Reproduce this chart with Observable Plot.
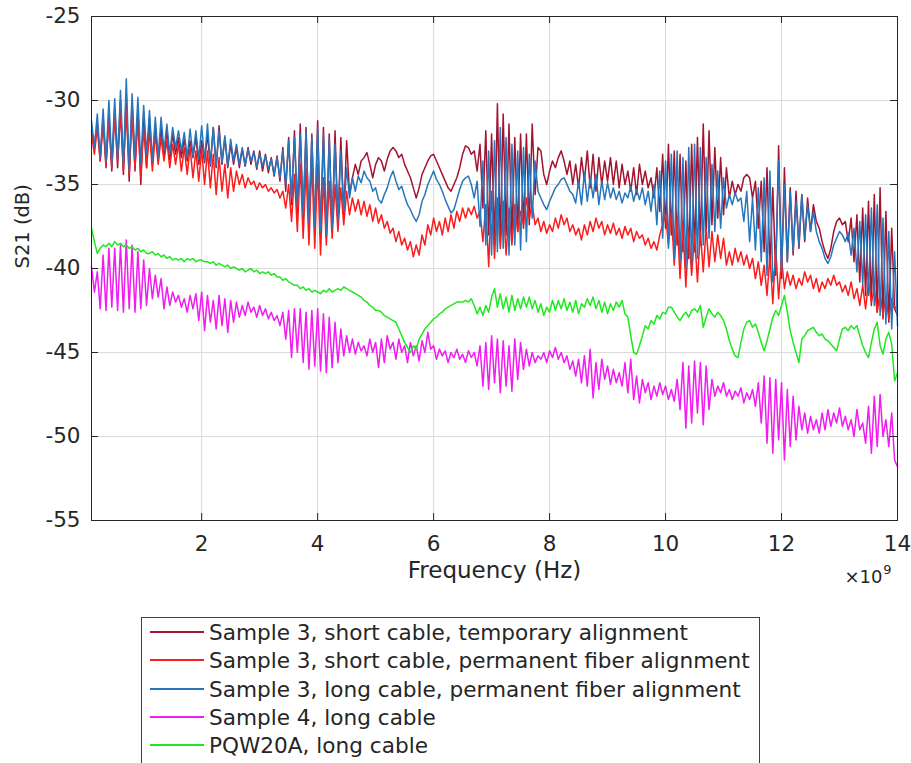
<!DOCTYPE html>
<html><head><meta charset="utf-8">
<script src="https://cdn.jsdelivr.net/npm/d3@7"></script>
<script src="https://cdn.jsdelivr.net/npm/@observablehq/plot@0.6"></script>
<style>
body{margin:0;background:#fff;font-family:"DejaVu Sans",sans-serif;}
#wrap{position:relative;width:911px;height:763px;overflow:hidden;background:#fff;}
#legend{position:absolute;left:141px;top:617px;width:619px;height:170px;border:1px solid #404040;box-sizing:border-box;background:#fff;}
.item{position:absolute;left:0;height:28px;display:flex;align-items:center;font-size:21.6px;color:#262626;white-space:nowrap;}
.sw{width:54px;height:2px;margin-left:8px;margin-right:5px;flex:none;}
</style></head>
<body><div id="wrap"><div id="chart"></div><div id="legend"></div></div>
<script>
// frequency sampling grid (GHz); axis shows x10^9 Hz
const freqStartGHz = 0.1;
const freqStepGHz = 0.05;
const xTicks = [2, 4, 6, 8, 10, 12, 14];
const yTicks = [-55, -50, -45, -40, -35, -30, -25];
const seriesNames = [
  "Sample 3, short cable, temporary alignment",
  "Sample 3, short cable, permanent fiber alignment",
  "Sample 3, long cable, permanent fiber alignment",
  "Sample 4, long cable",
  "PQW20A, long cable"
];
const seriesColors = ["#a2142f", "#fb1c1c", "#2676bd", "#f01cf0", "#1fe81f"];

// S21 (dB), one value per 0.05 GHz from 0.10 to 14.00 GHz
const s3ShortTemporary = [
-31.8,-32.6,-31.4,-33.6,-31.0,-34.0,-30.8,-34.2,-30.4,-34.0,
-30.0,-34.4,-29.6,-34.8,-30.0,-34.2,-30.4,-35.0,-30.8,-34.0,
-31.0,-33.8,-31.4,-33.6,-31.6,-33.4,-31.8,-33.5,-32.0,-33.2,
-32.2,-33.4,-32.3,-33.6,-32.4,-33.4,-32.2,-33.8,-32.4,-33.7,
-32.0,-33.9,-31.6,-34.0,-31.5,-33.8,-32.2,-34.0,-32.6,-33.8,
-32.8,-34.0,-32.9,-33.9,-32.8,-33.8,-33.0,-34.1,-33.0,-34.2,
-33.2,-34.3,-33.4,-34.5,-33.3,-34.8,-32.8,-35.4,-32.2,-36.2,
-31.8,-36.8,-31.4,-37.2,-31.6,-37.6,-32.0,-37.8,-31.2,-38.0,
-31.6,-38.2,-32.0,-37.8,-31.8,-37.4,-32.2,-36.8,-32.4,-35.6,
-34.6,-33.8,-34.4,-33.6,-33.4,-33.1,-33.8,-34.6,-33.8,-33.4,
-33.6,-34.2,-33.5,-33.0,-32.8,-33.0,-33.4,-33.2,-33.8,-34.2,
-34.6,-35.2,-35.8,-35.2,-34.4,-34.0,-33.6,-33.3,-33.2,-33.6,
-34.0,-34.4,-34.8,-35.2,-35.4,-35.0,-34.6,-34.0,-33.2,-32.7,
-32.8,-33.2,-33.0,-34.2,-32.6,-36.4,-31.8,-38.0,-32.0,-38.6,
-30.2,-38.4,-30.8,-38.0,-31.4,-38.2,-32.2,-37.8,-32.0,-37.6,
-32.0,-37.4,-31.4,-35.6,-32.8,-33.0,-34.4,-35.0,-34.2,-33.6,
-34.0,-33.4,-33.0,-33.6,-34.4,-33.6,-35.0,-33.8,-35.2,-33.4,
-34.8,-33.0,-35.2,-33.2,-35.4,-33.4,-35.0,-33.6,-34.8,-33.4,
-35.0,-33.6,-35.2,-33.8,-35.0,-34.2,-35.4,-34.0,-35.6,-33.8,
-35.0,-34.2,-35.2,-34.6,-35.8,-34.0,-36.6,-33.2,-37.6,-32.6,
-38.0,-33.0,-38.6,-33.2,-39.0,-33.6,-39.4,-32.6,-39.0,-32.2,
-38.6,-31.4,-38.0,-31.8,-37.4,-32.8,-37.0,-33.4,-36.8,-34.0,
-35.8,-34.8,-35.6,-35.0,-35.4,-34.6,-34.4,-34.6,-35.8,-34.8,
-37.6,-34.8,-39.0,-34.0,-40.0,-35.2,-40.4,-32.7,-40.6,-34.0,
-39.6,-35.2,-39.2,-35.4,-38.8,-35.6,-38.4,-35.8,-37.8,-36.2,
-37.2,-37.6,-38.4,-39.0,-39.4,-38.8,-37.8,-37.2,-37.0,-37.4,
-37.2,-38.4,-37.0,-39.6,-36.8,-40.8,-36.4,-41.6,-36.0,-42.2,
-35.6,-42.6,-35.2,-43.0,-36.6,-43.2,-37.6,-42.4,-42.8
];
const s3ShortPermanent = [
-32.0,-33.2,-31.6,-33.6,-31.4,-33.8,-31.2,-34.0,-31.0,-33.6,
-30.8,-34.2,-30.6,-34.4,-31.0,-34.0,-31.2,-34.6,-31.6,-34.0,
-31.8,-34.2,-32.0,-33.8,-32.2,-33.6,-32.4,-34.0,-32.6,-33.8,
-32.6,-34.2,-32.8,-34.4,-32.8,-34.6,-33.0,-34.8,-32.9,-35.0,
-33.0,-35.2,-33.2,-35.6,-33.4,-35.4,-33.8,-35.8,-34.0,-35.4,
-34.2,-35.0,-34.4,-35.2,-34.6,-35.0,-34.8,-35.3,-34.9,-35.2,
-35.0,-35.4,-35.2,-35.5,-35.3,-35.8,-35.4,-36.4,-35.0,-37.2,
-34.4,-37.8,-33.8,-38.2,-34.0,-38.6,-33.6,-38.8,-33.8,-39.2,
-34.6,-38.6,-34.8,-38.2,-35.0,-37.8,-35.2,-37.4,-35.4,-36.8,
-35.8,-36.6,-35.9,-36.8,-36.0,-36.9,-36.2,-37.2,-36.4,-37.3,
-36.8,-37.6,-37.2,-37.9,-37.6,-38.4,-37.8,-38.6,-38.2,-38.9,
-38.4,-39.3,-38.6,-39.2,-38.0,-38.6,-37.4,-38.0,-37.0,-37.8,
-37.2,-38.0,-37.0,-37.8,-36.8,-37.6,-36.6,-37.2,-36.4,-37.0,
-36.4,-36.8,-36.3,-37.0,-36.6,-38.4,-36.2,-39.9,-35.4,-39.4,
-35.8,-38.8,-36.0,-39.2,-36.4,-38.6,-36.2,-37.8,-36.6,-37.4,
-35.8,-37.0,-36.2,-37.4,-37.0,-37.8,-37.2,-37.9,-37.4,-37.8,
-37.0,-37.6,-36.8,-37.4,-37.0,-37.8,-37.4,-38.0,-37.6,-38.3,
-37.4,-38.0,-37.2,-37.8,-37.0,-37.6,-37.2,-38.0,-37.4,-37.9,
-37.3,-38.0,-37.6,-38.2,-37.5,-38.0,-37.6,-38.4,-37.8,-38.2,
-38.0,-38.6,-38.2,-38.8,-38.4,-38.9,-38.0,-37.4,-36.8,-38.6,
-36.6,-39.8,-37.0,-40.6,-37.4,-41.1,-37.8,-40.4,-38.0,-40.8,
-37.8,-40.2,-37.6,-39.9,-37.8,-39.6,-38.0,-39.4,-38.2,-39.8,
-39.0,-39.8,-38.8,-39.6,-39.0,-39.8,-39.2,-40.0,-39.4,-40.6,
-39.6,-41.0,-39.8,-41.6,-39.2,-42.1,-38.8,-41.8,-39.4,-41.2,
-40.2,-41.0,-40.4,-41.2,-40.6,-41.0,-40.2,-40.8,-40.4,-41.2,
-40.6,-41.4,-40.8,-41.2,-40.6,-41.0,-40.4,-41.0,-40.8,-41.4,
-41.0,-41.6,-40.8,-41.8,-41.2,-42.2,-41.0,-42.4,-40.8,-42.0,
-41.2,-42.6,-41.4,-42.8,-41.6,-43.0,-41.8,-42.4,-42.2
];
const s3LongPermanent = [
-31.2,-32.8,-30.8,-33.4,-30.5,-33.6,-30.0,-33.8,-29.9,-33.5,
-29.4,-33.9,-28.7,-34.2,-29.6,-33.5,-29.8,-33.8,-30.3,-33.2,
-30.6,-33.6,-31.0,-33.4,-31.0,-33.0,-31.4,-33.2,-31.6,-32.8,
-31.8,-33.0,-31.9,-33.4,-31.7,-33.3,-31.8,-33.5,-31.5,-33.6,
-31.4,-33.8,-31.6,-33.9,-31.8,-33.7,-32.1,-33.9,-32.3,-33.6,
-32.6,-33.8,-32.8,-33.9,-32.9,-33.6,-33.1,-34.0,-33.2,-33.9,
-33.3,-34.1,-33.5,-34.4,-33.4,-34.6,-33.0,-35.0,-32.4,-35.8,
-32.2,-36.3,-32.0,-36.8,-31.8,-37.2,-32.2,-37.5,-31.6,-37.8,
-32.0,-38.0,-32.3,-37.6,-32.6,-37.2,-33.0,-36.6,-34.0,-35.8,
-34.6,-35.4,-34.5,-34.9,-34.2,-34.6,-34.8,-35.4,-35.2,-35.9,
-36.1,-35.6,-35.2,-34.6,-34.2,-34.8,-35.3,-35.1,-35.7,-36.2,
-36.5,-36.9,-37.2,-36.8,-36.0,-35.6,-35.0,-34.6,-34.2,-34.7,
-35.0,-35.4,-35.9,-36.3,-36.7,-36.5,-35.9,-35.3,-34.8,-34.6,
-34.5,-35.0,-35.8,-34.8,-37.5,-33.6,-38.6,-33.0,-39.2,-32.4,
-39.0,-31.6,-38.8,-32.2,-39.2,-32.6,-38.6,-33.0,-38.9,-32.8,
-38.4,-33.2,-37.0,-33.6,-35.4,-35.8,-36.2,-36.5,-36.0,-35.6,
-35.2,-35.0,-34.7,-34.6,-35.0,-35.4,-35.6,-36.1,-34.8,-36.2,
-34.3,-36.0,-34.6,-35.8,-34.4,-36.2,-34.8,-35.9,-34.9,-35.8,
-35.2,-35.9,-35.4,-36.1,-35.5,-35.8,-35.1,-36.0,-35.3,-35.9,
-35.2,-36.2,-35.4,-36.6,-35.0,-37.4,-34.2,-38.2,-33.6,-38.8,
-33.2,-39.4,-33.0,-39.6,-33.4,-40.0,-32.8,-39.8,-32.6,-39.4,
-32.8,-38.6,-33.4,-38.2,-33.8,-37.8,-34.2,-37.6,-34.6,-36.4,
-35.6,-36.2,-35.5,-36.0,-35.8,-37.2,-35.4,-38.4,-35.8,-38.9,
-35.2,-39.6,-34.6,-40.4,-34.2,-40.8,-39.6,-33.6,-40.2,-35.0,
-39.6,-35.4,-39.0,-36.0,-38.6,-35.6,-38.2,-36.2,-37.8,-36.6,
-37.8,-38.4,-38.8,-39.4,-39.7,-39.3,-38.6,-38.2,-37.8,-38.0,
-38.4,-37.9,-39.2,-37.6,-40.2,-37.2,-41.0,-36.8,-41.6,-36.4,
-42.2,-36.2,-42.8,-37.0,-43.3,-37.8,-43.6,-39.0,-43.4
];
const s4Long = [
-39.9,-41.4,-40.2,-42.4,-39.2,-42.5,-38.8,-42.3,-38.8,-42.5,
-38.6,-42.6,-38.3,-42.4,-38.6,-42.6,-39.0,-42.4,-39.5,-42.2,
-40.0,-41.8,-40.4,-41.7,-40.6,-42.4,-41.1,-42.2,-41.4,-42.0,
-41.6,-42.3,-41.8,-42.6,-41.6,-42.4,-41.5,-43.1,-41.4,-43.7,
-41.6,-43.2,-41.9,-43.6,-41.6,-43.4,-41.8,-43.8,-41.9,-43.2,
-42.0,-42.9,-42.2,-42.8,-42.0,-42.6,-42.3,-42.9,-42.2,-42.8,
-42.4,-43.0,-42.6,-43.1,-42.8,-43.4,-42.6,-44.2,-42.5,-45.3,
-42.4,-45.0,-42.4,-45.6,-42.6,-46.0,-42.5,-45.8,-42.4,-46.1,
-42.7,-46.2,-42.9,-45.9,-43.2,-45.6,-43.6,-45.2,-44.0,-45.0,
-44.2,-45.1,-44.4,-44.9,-44.6,-45.2,-44.2,-45.0,-44.4,-45.9,
-44.2,-45.6,-44.0,-44.8,-44.4,-45.4,-44.2,-45.0,-44.6,-45.6,
-44.4,-45.2,-44.6,-45.5,-44.3,-45.0,-43.8,-44.8,-44.6,-45.4,
-44.8,-45.2,-44.9,-45.6,-45.0,-45.3,-44.8,-45.4,-45.1,-45.6,
-44.9,-45.3,-45.0,-45.8,-44.6,-47.0,-44.4,-47.2,-44.0,-46.8,
-44.2,-47.4,-44.3,-47.0,-44.6,-47.3,-44.2,-46.6,-44.4,-46.0,
-44.8,-45.8,-45.0,-45.6,-45.2,-45.4,-45.0,-45.6,-44.9,-45.3,
-44.7,-45.4,-45.0,-45.6,-45.2,-46.0,-45.5,-46.4,-45.4,-46.8,
-45.2,-47.0,-44.8,-47.7,-45.6,-47.2,-45.4,-46.6,-45.8,-46.9,
-46.0,-46.8,-46.2,-47.0,-45.6,-47.4,-45.4,-47.8,-46.4,-48.0,
-46.6,-47.4,-46.8,-47.8,-47.0,-47.6,-46.8,-47.5,-47.0,-47.8,
-47.2,-47.9,-46.6,-48.4,-45.6,-49.5,-45.8,-49.2,-45.5,-48.6,
-45.6,-49.3,-45.8,-48.4,-46.6,-47.6,-47.0,-47.4,-46.8,-47.6,
-47.2,-47.8,-47.3,-47.6,-47.1,-48.0,-47.4,-47.8,-47.2,-48.2,
-46.8,-49.2,-46.4,-50.4,-46.5,-51.0,-46.6,-50.2,-46.8,-51.4,
-47.2,-50.6,-47.6,-50.2,-48.2,-49.6,-48.6,-49.8,-48.8,-49.6,
-49.0,-49.8,-48.6,-49.6,-48.4,-49.4,-48.6,-49.2,-48.3,-49.4,
-48.8,-49.6,-49.0,-50.0,-48.4,-49.6,-49.2,-50.4,-48.2,-51.0,
-47.6,-50.6,-47.5,-50.0,-49.0,-50.6,-48.6,-51.4,-51.8
];
const pqw20aLong = [
-37.6,-38.4,-39.1,-38.8,-38.6,-38.7,-38.5,-38.7,-38.4,-38.6,
-38.5,-38.7,-38.6,-38.8,-38.7,-38.9,-38.8,-39.0,-38.9,-39.1,
-39.1,-39.0,-39.2,-39.1,-39.3,-39.2,-39.4,-39.3,-39.5,-39.4,
-39.5,-39.4,-39.6,-39.4,-39.5,-39.4,-39.6,-39.5,-39.5,-39.6,
-39.6,-39.7,-39.6,-39.8,-39.7,-39.8,-39.9,-39.8,-40.0,-39.9,
-40.0,-40.1,-40.0,-40.2,-40.1,-40.0,-40.2,-40.1,-40.3,-40.2,
-40.3,-40.2,-40.4,-40.3,-40.5,-40.5,-40.7,-40.6,-40.8,-40.9,
-41.0,-41.0,-41.2,-41.1,-41.3,-41.2,-41.4,-41.3,-41.4,-41.5,
-41.3,-41.4,-41.2,-41.4,-41.3,-41.2,-41.3,-41.1,-41.2,-41.3,
-41.4,-41.5,-41.6,-41.7,-41.9,-42.0,-42.2,-42.3,-42.5,-42.5,
-42.6,-42.8,-42.9,-43.0,-43.1,-43.2,-43.6,-44.0,-44.4,-44.7,
-45.0,-44.6,-44.8,-44.2,-43.9,-43.6,-43.4,-43.2,-43.0,-42.9,
-42.7,-42.6,-42.4,-42.3,-42.2,-42.1,-42.0,-42.0,-42.0,-41.9,
-42.0,-41.8,-42.2,-42.7,-42.3,-42.8,-42.2,-42.6,-41.7,-41.2,
-42.3,-41.5,-42.4,-41.7,-42.6,-41.6,-42.5,-41.8,-42.4,-41.7,
-42.3,-41.7,-42.4,-41.9,-42.6,-42.1,-42.8,-42.3,-42.6,-41.9,
-42.5,-41.9,-42.4,-41.8,-42.5,-42.0,-42.6,-41.9,-42.7,-42.1,
-42.3,-41.8,-42.2,-41.7,-42.4,-41.9,-42.6,-42.0,-42.7,-42.1,
-42.5,-42.0,-42.3,-41.9,-42.7,-42.9,-44.0,-45.0,-45.1,-44.6,
-44.0,-43.4,-43.6,-43.1,-43.3,-42.8,-43.0,-42.6,-42.7,-42.3,
-42.3,-42.6,-42.9,-43.1,-42.8,-42.6,-42.9,-42.5,-42.4,-42.6,
-42.2,-43.5,-42.9,-42.4,-42.7,-42.9,-42.6,-42.8,-43.1,-43.6,
-44.3,-44.8,-45.2,-45.3,-44.4,-43.6,-43.2,-43.1,-43.5,-43.3,
-43.8,-44.4,-44.9,-44.3,-43.6,-42.9,-42.5,-42.8,-42.2,-41.6,
-42.6,-43.7,-44.4,-45.0,-45.6,-44.2,-44.0,-43.7,-43.6,-43.5,
-43.8,-44.0,-43.9,-44.2,-44.3,-44.5,-44.7,-44.9,-44.2,-43.6,
-43.5,-43.7,-43.4,-43.6,-43.4,-44.0,-44.6,-45.0,-45.3,-44.4,
-43.6,-43.2,-44.6,-45.1,-44.2,-43.8,-44.5,-46.7,-46.2
];

const allSeries = [s3ShortTemporary, s3ShortPermanent, s3LongPermanent, s4Long, pqw20aLong];
const rows = allSeries.flatMap((vals, si) =>
  vals.map((v, i) => ({f: +(freqStartGHz + i * freqStepGHz).toFixed(2), v, s: seriesNames[si]})));

const W = 911, H = 600, mL = 91, mR = 14, mT = 16, mB = 80;
const frameW = W - mL - mR, frameH = H - mT - mB, tickLen = 7;
const ink = "#262626";

const chart = Plot.plot({
  width: W, height: H,
  marginLeft: mL, marginRight: mR, marginTop: mT, marginBottom: mB,
  style: {fontFamily: '"DejaVu Sans", sans-serif', fontSize: "21.5px", color: ink, background: "#fff", overflow: "visible"},
  x: {domain: [0.1, 14]},
  y: {domain: [-55, -25]},
  color: {domain: seriesNames, range: seriesColors},
  marks: [
    Plot.gridX(xTicks, {stroke: "#dadada", strokeOpacity: 1}),
    Plot.gridY(yTicks, {stroke: "#dadada", strokeOpacity: 1}),
    Plot.line(rows, {x: "f", y: "v", z: "s", stroke: "s", strokeWidth: 1.5}),
    Plot.frame({stroke: ink}),
    Plot.tickX(xTicks, {x: d => d, insetTop: frameH - tickLen, stroke: ink}),
    Plot.tickX(xTicks, {x: d => d, insetBottom: frameH - tickLen, stroke: ink}),
    Plot.tickY(yTicks, {y: d => d, insetRight: frameW - tickLen, stroke: ink}),
    Plot.tickY(yTicks, {y: d => d, insetLeft: frameW - tickLen, stroke: ink}),
    Plot.axisX(xTicks, {tickSize: 0, tickPadding: 15, label: null, tickFormat: d => String(d)}),
    Plot.axisY(yTicks, {tickSize: 0, tickPadding: 11, label: null, tickFormat: d => String(d)}),
    Plot.text(["Frequency (Hz)"], {text: d => d, frameAnchor: "bottom", dy: 57, fontSize: 23, fill: ink}),
    Plot.text(["S21 (dB)"], {text: d => d, frameAnchor: "left", dx: -69, rotate: -90, fontSize: 19.5, fill: ink}),
    Plot.text(["×10"], {text: d => d, frameAnchor: "bottom-right", textAnchor: "end", dx: -15, dy: 62, fontSize: 18, fill: ink}),
    Plot.text(["9"], {text: d => d, frameAnchor: "bottom-right", textAnchor: "end", dx: -6, dy: 53, fontSize: 13, fill: ink})
  ]
});
document.getElementById("chart").appendChild(chart);

const legend = document.getElementById("legend");
seriesNames.forEach((name, i) => {
  const item = document.createElement("div");
  item.className = "item";
  item.style.top = Math.round(i * 28.3) + "px";
  const sw = document.createElement("div");
  sw.className = "sw";
  sw.style.background = seriesColors[i];
  const tx = document.createElement("span");
  tx.textContent = name;
  item.appendChild(sw);
  item.appendChild(tx);
  legend.appendChild(item);
});
</script>
</body></html>
